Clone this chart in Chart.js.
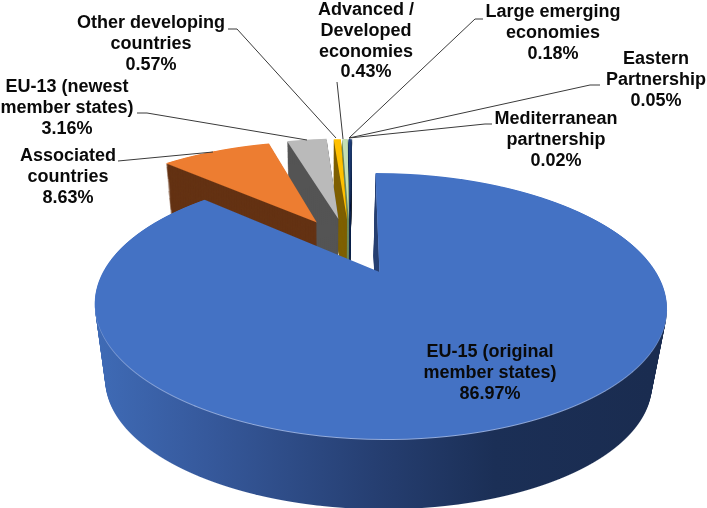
<!DOCTYPE html>
<html><head><meta charset="utf-8">
<script src="https://cdn.jsdelivr.net/npm/chart.js@4"></script>
<style>html,body{margin:0;padding:0;background:#fff}canvas{display:block}</style>
</head><body><canvas id="c" width="707" height="508"></canvas>
<script>
const categories = [
  ["EU-15 (original","member states)"],
  ["Associated","countries"],
  ["EU-13 (newest","member states)"],
  ["Other developing","countries"],
  ["Advanced /","Developed","economies"],
  ["Large emerging","economies"],
  ["Eastern","Partnership"],
  ["Mediterranean","partnership"]
];
const shares = [86.97, 8.63, 3.16, 0.57, 0.43, 0.18, 0.05, 0.02];
const topColors = ["#4472C4","#ED7D31","#BABABA","#FFC000","#C5DFB5","#1F3F80","#264478","#44546A"];
const wallColors = [null,"#643213","#545454","#7F6000","#6E8A5C","#14294F","#14294F","#222A35"];
const explosion = [0.275,0.225,0.23,0.22,0.22,0.22,0.22,0.22];
const sideNudge = [0,-0.018,-0.008,0,0,0,0,0];
const labelX = [490,68,67,151,366,553,656,556];
const labelY = [352,156,87,23,10,12,59,119];
const leaders = [
  null,
  [[118,161],[213,152]],
  [[137,113],[147,113],[307,140]],
  [[228,29],[237,29],[336,138]],
  [[337,82],[343,139]],
  [[483,19],[475,19],[349,138]],
  [[600,85],[590,85],[349,138]],
  [[492,124],[485,124],[349,138]]
];

// view of the tilted disc
const VIEW = {X0:379.5, Y0:272, A:276.5, B:124.3, C:5, k:0.2557, Vx:330, Vy:2000, shrink:0.045, layers:80};
const WALL_STOPS = [[0,"#3F6BB6"],[0.2,"#36599C"],[0.5,"#263F72"],[0.72,"#1B2F56"],[1,"#1A2C50"]];

function rowFrame(Y, h, s){
  const V = VIEW, Yc = Y + h/2;
  const Yp = V.Vy + (Yc - V.Vy)/s;
  const dY = Yp - V.Y0;
  const v = dY/(V.B + V.k*dY);
  return {Yc, v, w: 1 - V.k*v};
}
function project(u, v, s){
  const V = VIEW, w = 1 - V.k*v;
  const xp = V.X0 + (V.A*u + V.C*v)/w, yp = V.Y0 + V.B*v/w;
  return [V.Vx + s*(xp - V.Vx), V.Vy + s*(yp - V.Vy)];
}
function paintArc(chart, arc, cu, cv, s, h, fill, grad){
  const ctx = chart.ctx, V = VIEW, R = arc.outerRadius;
  const opts = arc.options;
  let lo = 1e9, hi = -1e9;
  const n = 60;
  for(let i=0;i<=n+1;i++){
    let u=cu, v=cv;
    if(i<=n){const a=arc.startAngle+(arc.endAngle-arc.startAngle)*i/n; u+=Math.cos(a); v+=Math.sin(a);}
    const p=project(u,v,s); lo=Math.min(lo,p[1]); hi=Math.max(hi,p[1]);
  }
  lo=Math.floor((lo-2)/h)*h; hi=Math.min(Math.ceil(hi+2),chart.height);
  const over = Object.create(opts);
  over.backgroundColor = fill;
  over.borderWidth = 0;
  arc.options = over;
  for(let Y=lo;Y<hi;Y+=h){
    const f = rowFrame(Y,h,s);
    ctx.save();
    ctx.beginPath(); ctx.rect(0,Y,chart.width,h); ctx.clip();
    const a = s*V.A/(f.w*R);
    const xc = project(cu,f.v,s)[0];
    const e = xc - a*arc.x;
    const d = s*V.B/(f.w*f.w*R);
    const g = f.Yc - d*(arc.y + (f.v-cv)*R);
    ctx.setTransform(a,0,0,d,e,g);
    if(grad){
      const lg = ctx.createLinearGradient((95-e)/a,0,(650-e)/a,0);
      WALL_STOPS.forEach(st=>lg.addColorStop(st[0],st[1]));
      over.backgroundColor = lg;
    }
    arc.draw(ctx);
    ctx.restore();
  }
  arc.options = opts;
}
const tiltedPie = {
  id:'tiltedPie',
  beforeDatasetsDraw(chart){
    const arcs = chart.getDatasetMeta(0).data, V = VIEW;
    const m0 = (arcs[0].startAngle+arcs[0].endAngle)/2;
    const c0u = -explosion[0]*Math.cos(m0), c0v = -explosion[0]*Math.sin(m0);
    for(let i=arcs.length-1;i>=0;i--){
      const arc = arcs[i], m=(arc.startAngle+arc.endAngle)/2;
      const cu = c0u+explosion[i]*Math.cos(m)+sideNudge[i], cv = c0v+explosion[i]*Math.sin(m);
      for(let l=V.layers;l>=1;l--){
        const s = 1 - V.shrink*l/V.layers;
        paintArc(chart,arc,cu,cv,s,1,i===0?"#000":wallColors[i],i===0);
      }
      if(i===0) paintArc(chart,arc,cu,cv,1-V.shrink/70,1,"#93ABDB",false);
      paintArc(chart,arc,cu,cv,1,1,topColors[i],false);
    }
    return false;
  },
  afterDraw(chart){
    const ctx = chart.ctx;
    ctx.save();
    ctx.strokeStyle="#3a3a3a"; ctx.lineWidth=1;
    leaders.forEach(pts=>{
      if(!pts) return;
      ctx.beginPath();
      pts.forEach((p,j)=> j?ctx.lineTo(p[0],p[1]):ctx.moveTo(p[0],p[1]));
      ctx.stroke();
    });
    ctx.fillStyle="#0a0a0a"; ctx.font="bold 18px 'Liberation Sans'";
    ctx.textAlign="center"; ctx.textBaseline="middle";
    categories.forEach((lines,i)=>{
      const all = lines.concat(shares[i].toFixed(2)+"%");
      all.forEach((t,j)=>ctx.fillText(t,labelX[i],labelY[i]+j*20.8));
    });
    ctx.restore();
  }
};
new Chart(document.getElementById('c'),{
  type:'pie',
  data:{labels:categories.map(c=>c.join(' ')),datasets:[{data:shares,backgroundColor:topColors,borderWidth:0}]},
  options:{responsive:false,animation:false,events:[],plugins:{legend:{display:false},tooltip:{enabled:false}},layout:{padding:0}},
  plugins:[tiltedPie]
});
</script></body></html>
